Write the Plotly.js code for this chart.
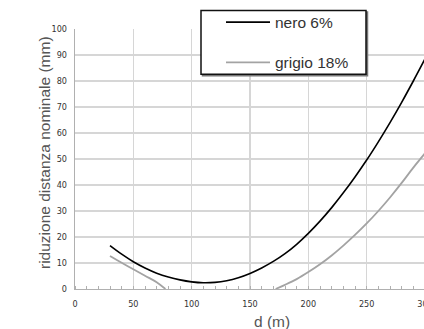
<!DOCTYPE html>
<html><head><meta charset="utf-8">
<script src="https://cdn.plot.ly/plotly-3.0.1.min.js"></script>
<style>html,body{margin:0;padding:0;overflow:hidden;background:#fff}#chart{width:426px;height:329px}</style>
</head><body><div id="chart"></div>
<script>
// distance d (m)
const dNero = [30,40,50,60,70,80,90,100,110,120,130,140,150,160,170,180,190,200,210,220,230,240,250,260,270,280,290,300];
// riduzione (mm) - nero 6%
const nero6 = [16.7,13.4,10.5,8.1,6.1,4.6,3.5,2.75,2.4,2.55,3.2,4.35,6.0,8.1,10.6,13.6,17.2,21.4,26.1,31.3,37.0,43.1,49.6,56.6,64.0,71.8,80.0,88.5];
// grigio 18% (curve leaves the visible range between ~78 m and ~172 m)
const dGrigio = [30,40,50,60,70,77.5,125,172,180,190,200,210,220,230,240,250,260,270,280,290,300];
const grigio18 = [12.7,10.1,7.6,5.1,2.6,0.0,null,0.0,1.6,3.8,6.5,9.5,12.9,16.7,20.8,25.2,30.0,35.2,40.8,46.7,52.2];
const seriesNames = ['nero 6%','grigio 18%'];
const xTickVals = [0,50,100,150,200,250,300];
const xTitle = 'd (m)';
const yTitle = 'riduzione distanza nominale (mm)';

// pixel helpers for placing decorations (plot area: x 75..425, y 28.5..289.5)
const px = v => (v-75)/350, py = v => (289.5-v)/261;

const tickFont = {family:'"Liberation Sans Narrow","DejaVu Sans Condensed",sans-serif', size:9, color:'#333'};
const titleFont = {family:'"Liberation Sans",Arial,sans-serif', size:15.5, color:'#555'};
const traces = [
  {x:dNero, y:nero6, name:seriesNames[0], mode:'lines', line:{color:'#000', width:1.6, shape:'spline'}, legendgroup:'a'},
  {x:dGrigio, y:grigio18, name:seriesNames[1], mode:'lines', line:{color:'#a3a3a3', width:1.8, shape:'spline'}, connectgaps:false, legendgroup:'b'}
];
const layout = {
  width:426, height:329,
  margin:{l:75, r:1, t:28.5, b:39.5},
  paper_bgcolor:'#fff', plot_bgcolor:'#fff',
  showlegend:true,
  xaxis:{range:[0,300], tickvals:xTickVals, ticks:'', showgrid:true, gridcolor:'#d6d6d6', gridwidth:1.5,
         showline:true, linecolor:'#b0b0b0', linewidth:1.2, zeroline:false, tickfont:tickFont, ticklabelstandoff:6,
         ticklabeloverflow:'allow',
         minor:{dtick:10, ticks:'inside', ticklen:3, tickcolor:'#b0b0b0', tickwidth:1, showgrid:false}},
  yaxis:{range:[0,100], dtick:10, ticks:'', showgrid:true, gridcolor:'#d6d6d6', gridwidth:1.5,
         showline:true, linecolor:'#b0b0b0', linewidth:1.2, zeroline:false, tickfont:tickFont, ticklabelstandoff:5},
  legend:{x:px(221), y:py(5), xanchor:'left', yanchor:'top', bgcolor:'rgba(0,0,0,0)', borderwidth:0,
          font:{family:'"Liberation Sans",Arial,sans-serif', size:15.5, color:'#333'}, tracegroupgap:17, itemwidth:44},
  shapes:[
    {type:'rect', xref:'paper', yref:'paper', x0:px(202.5), x1:px(367.5), y0:py(75.5), y1:py(11.5), line:{color:'#777', width:1.5}, fillcolor:'#777', layer:'above'},
    {type:'rect', xref:'paper', yref:'paper', x0:px(201), x1:px(366), y0:py(74), y1:py(10), line:{color:'#111', width:1.5}, fillcolor:'#fff', layer:'above'}
  ],
  annotations:[
    {text:xTitle, xref:'paper', yref:'paper', x:px(272), y:py(321.7), xanchor:'center', yanchor:'middle', showarrow:false, font:titleFont},
    {text:yTitle, xref:'paper', yref:'paper', x:px(44.5), y:py(152.5), xanchor:'center', yanchor:'middle', textangle:-90, showarrow:false, font:titleFont}
  ]
};
Plotly.newPlot('chart', traces, layout, {displayModeBar:false, staticPlot:true});
</script></body></html>
